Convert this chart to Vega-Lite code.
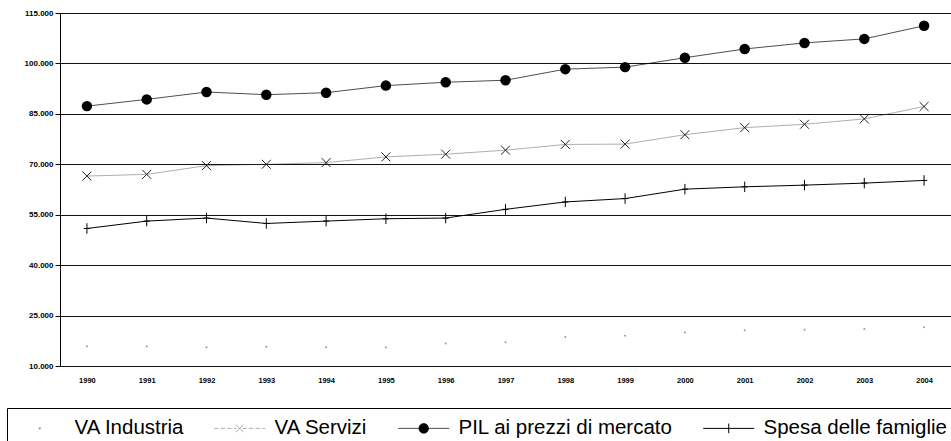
{
  "$schema": "https://vega.github.io/schema/vega-lite/v6.json",
  "width": 891,
  "height": 353,
  "autosize": {"type": "none"},
  "padding": {"left": 60, "top": 13, "right": 0, "bottom": 75},
  "background": "white",
  "data": {
    "values": [
      {"year": "1990", "series": "VA Industria", "value": 15900},
      {"year": "1991", "series": "VA Industria", "value": 15800},
      {"year": "1992", "series": "VA Industria", "value": 15600},
      {"year": "1993", "series": "VA Industria", "value": 15700},
      {"year": "1994", "series": "VA Industria", "value": 15600},
      {"year": "1995", "series": "VA Industria", "value": 15500},
      {"year": "1996", "series": "VA Industria", "value": 16700},
      {"year": "1997", "series": "VA Industria", "value": 17100},
      {"year": "1998", "series": "VA Industria", "value": 18600},
      {"year": "1999", "series": "VA Industria", "value": 19000},
      {"year": "2000", "series": "VA Industria", "value": 20000},
      {"year": "2001", "series": "VA Industria", "value": 20600},
      {"year": "2002", "series": "VA Industria", "value": 20800},
      {"year": "2003", "series": "VA Industria", "value": 21000},
      {"year": "2004", "series": "VA Industria", "value": 21500},
      {"year": "1990", "series": "VA Servizi", "value": 66500},
      {"year": "1991", "series": "VA Servizi", "value": 67000},
      {"year": "1992", "series": "VA Servizi", "value": 69600},
      {"year": "1993", "series": "VA Servizi", "value": 70000},
      {"year": "1994", "series": "VA Servizi", "value": 70500},
      {"year": "1995", "series": "VA Servizi", "value": 72200},
      {"year": "1996", "series": "VA Servizi", "value": 73000},
      {"year": "1997", "series": "VA Servizi", "value": 74200},
      {"year": "1998", "series": "VA Servizi", "value": 75900},
      {"year": "1999", "series": "VA Servizi", "value": 76000},
      {"year": "2000", "series": "VA Servizi", "value": 78800},
      {"year": "2001", "series": "VA Servizi", "value": 80900},
      {"year": "2002", "series": "VA Servizi", "value": 81900},
      {"year": "2003", "series": "VA Servizi", "value": 83500},
      {"year": "2004", "series": "VA Servizi", "value": 87200},
      {"year": "1990", "series": "PIL ai prezzi di mercato", "value": 87300},
      {"year": "1991", "series": "PIL ai prezzi di mercato", "value": 89300},
      {"year": "1992", "series": "PIL ai prezzi di mercato", "value": 91500},
      {"year": "1993", "series": "PIL ai prezzi di mercato", "value": 90700},
      {"year": "1994", "series": "PIL ai prezzi di mercato", "value": 91300},
      {"year": "1995", "series": "PIL ai prezzi di mercato", "value": 93400},
      {"year": "1996", "series": "PIL ai prezzi di mercato", "value": 94400},
      {"year": "1997", "series": "PIL ai prezzi di mercato", "value": 95000},
      {"year": "1998", "series": "PIL ai prezzi di mercato", "value": 98300},
      {"year": "1999", "series": "PIL ai prezzi di mercato", "value": 98900},
      {"year": "2000", "series": "PIL ai prezzi di mercato", "value": 101700},
      {"year": "2001", "series": "PIL ai prezzi di mercato", "value": 104300},
      {"year": "2002", "series": "PIL ai prezzi di mercato", "value": 106100},
      {"year": "2003", "series": "PIL ai prezzi di mercato", "value": 107300},
      {"year": "2004", "series": "PIL ai prezzi di mercato", "value": 111200},
      {"year": "1990", "series": "Spesa delle famiglie", "value": 50900},
      {"year": "1991", "series": "Spesa delle famiglie", "value": 53100},
      {"year": "1992", "series": "Spesa delle famiglie", "value": 54000},
      {"year": "1993", "series": "Spesa delle famiglie", "value": 52400},
      {"year": "1994", "series": "Spesa delle famiglie", "value": 53100},
      {"year": "1995", "series": "Spesa delle famiglie", "value": 53800},
      {"year": "1996", "series": "Spesa delle famiglie", "value": 54000},
      {"year": "1997", "series": "Spesa delle famiglie", "value": 56600},
      {"year": "1998", "series": "Spesa delle famiglie", "value": 58800},
      {"year": "1999", "series": "Spesa delle famiglie", "value": 59800},
      {"year": "2000", "series": "Spesa delle famiglie", "value": 62600},
      {"year": "2001", "series": "Spesa delle famiglie", "value": 63300},
      {"year": "2002", "series": "Spesa delle famiglie", "value": 63800},
      {"year": "2003", "series": "Spesa delle famiglie", "value": 64400},
      {"year": "2004", "series": "Spesa delle famiglie", "value": 65200}
    ]
  },
  "encoding": {
    "x": {
      "field": "year",
      "type": "ordinal",
      "scale": {"type": "point", "padding": 0.45},
      "axis": {
        "title": null,
        "labelAngle": 0,
        "domain": false,
        "ticks": false,
        "grid": false,
        "labelFont": "Liberation Sans",
        "labelFontSize": 7.5,
        "labelFontWeight": "bold",
        "labelColor": "black",
        "labelPadding": 10
      }
    },
    "y": {
      "field": "value",
      "type": "quantitative",
      "scale": {"domain": [10000, 115000], "nice": false, "zero": false},
      "axis": {
        "title": null,
        "values": [10000, 25000, 40000, 55000, 70000, 85000, 100000, 115000],
        "labelExpr": "replace(format(datum.value, ','), ',', '.')",
        "grid": true,
        "gridColor": "#111111",
        "gridWidth": 1,
        "domainColor": "black",
        "tickColor": "black",
        "tickSize": 5,
        "labelFont": "Liberation Sans",
        "labelFontSize": 8,
        "labelFontWeight": "bold",
        "labelColor": "black",
        "labelPadding": 2
      }
    }
  },
  "layer": [
    {
      "mark": {"type": "line", "strokeCap": "butt"},
      "encoding": {
        "color": {
          "field": "series",
          "type": "nominal",
          "scale": {
            "domain": ["VA Industria", "VA Servizi", "PIL ai prezzi di mercato", "Spesa delle famiglie"],
            "range": ["transparent", "#333333", "#000000", "#000000"]
          },
          "legend": {
            "orient": "none",
            "legendX": -53,
            "legendY": 395,
            "direction": "horizontal",
            "title": null,
            "labelFont": "Liberation Sans",
            "labelFontSize": 20.5,
            "labelColor": "black",
            "labelLimit": 400,
            "symbolSize": 144,
            "labelOffset": 37,
            "columnPadding": 28,
            "padding": 10,
            "strokeColor": "black",
            "fillColor": "white",
            "encode": {
              "symbols": {
                "update": {
                  "shape": {"signal": "datum.value === 'VA Industria' ? 'M1.93,-0.15H2.23V0.15H1.93Z' : datum.value === 'VA Servizi' ? 'M-2.17,0H-1.47M-1.07,0H-0.37M0.03,0H0.73M1.13,0H1.58M2.58,0H3.23M3.63,0H4.33M4.73,0H5.43M5.83,0H6.33M1.43,-0.65L2.73,0.65M1.43,0.65L2.73,-0.65' : datum.value === 'PIL ai prezzi di mercato' ? 'M-2.17,0H6.33M2.88,0A0.8,0.8 0 1,1 1.28,0A0.8,0.8 0 1,1 2.88,0Z' : 'M-2.17,0H6.33M2.08,-0.8V0.8'"},
                  "stroke": {"signal": "datum.value === 'VA Industria' ? '#888888' : 'black'"},
                  "fill": {"signal": "datum.value === 'VA Industria' ? '#888888' : 'black'"},
                  "strokeWidth": {"signal": "datum.value === 'PIL ai prezzi di mercato' ? 2 : 1.2"},
                  "opacity": {"value": 1},
                  "fillOpacity": {"value": 1},
                  "strokeOpacity": {"value": 1}
                }
              }
            }
          }
        },
        "strokeWidth": {
          "field": "series",
          "type": "nominal",
          "scale": {
            "domain": ["VA Industria", "VA Servizi", "PIL ai prezzi di mercato", "Spesa delle famiglie"],
            "range": [0.1, 1, 2, 1.4]
          },
          "legend": null
        }
      }
    },
    {
      "transform": [{"filter": "datum.series === 'VA Industria'"}],
      "mark": {"type": "point", "filled": true, "color": "#999999", "size": 4, "opacity": 1},
      "encoding": {}
    },
    {
      "transform": [{"filter": "datum.series === 'VA Servizi'"}],
      "mark": {"type": "point", "shape": "M-1,-1L1,1M-1,1L1,-1", "filled": false, "color": "#222222", "size": 80, "strokeWidth": 1, "opacity": 1},
      "encoding": {}
    },
    {
      "transform": [{"filter": "datum.series === 'PIL ai prezzi di mercato'"}],
      "mark": {"type": "point", "shape": "circle", "filled": true, "color": "black", "size": 110, "opacity": 1},
      "encoding": {}
    },
    {
      "transform": [{"filter": "datum.series === 'Spesa delle famiglie'"}],
      "mark": {"type": "point", "shape": "M0,-1V1M-0.6,0H0.6", "filled": false, "color": "black", "size": 110, "strokeWidth": 1, "opacity": 1},
      "encoding": {}
    }
  ],
  "config": {
    "view": {"stroke": null},
    "font": "Liberation Sans"
  }
}
